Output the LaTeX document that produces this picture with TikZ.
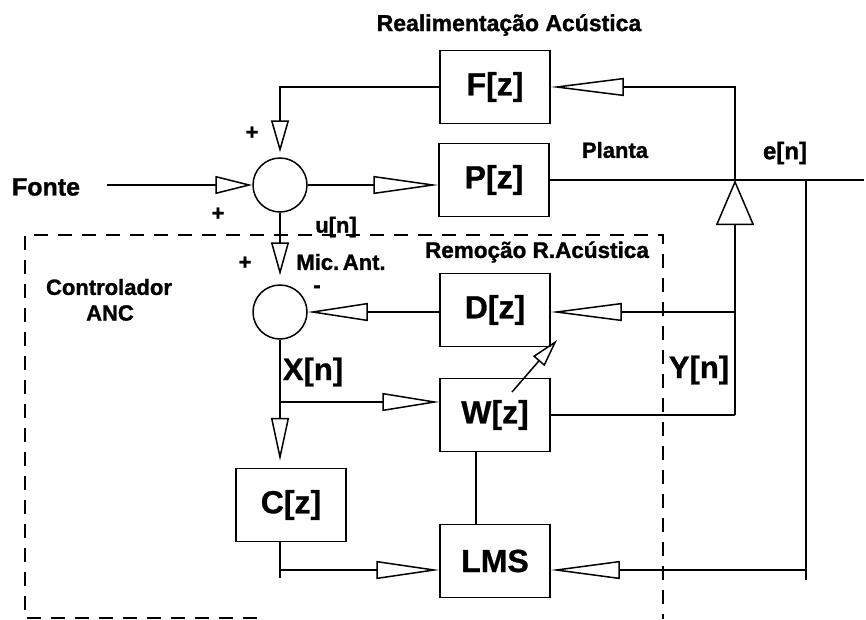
\documentclass[tikz,border=0pt]{standalone}
\usepackage{fontspec}
\setmainfont{Liberation Sans}
\newfontfamily\heavy{Liberation Sans}[FakeBold=1.3]
\newfontfamily\heavybig{Liberation Sans}[FakeBold=0.8]
\usetikzlibrary{arrows.meta,calc}
\begin{document}
\begin{tikzpicture}[x=1pt,y=-1pt,line width=1.5pt,
  blk/.style={draw, rectangle, minimum width=110pt, minimum height=73pt, inner sep=0pt, font=\fontsize{32}{32}\selectfont\heavybig\bfseries},
  sumj/.style={draw, circle, minimum size=54pt, inner sep=0pt},
  lbl/.style={font=\fontsize{22}{22}\selectfont\heavy\bfseries, inner sep=0pt},
  big/.style={font=\fontsize{31}{31}\selectfont\heavybig\bfseries, inner sep=0pt},
  ar/.style={-{Triangle[open,length=#1,width=18pt]}},
  dashbox/.style={dash pattern=on 14pt off 10pt}
]
\useasboundingbox (0,0) rectangle (866,619);

% blocks
\node[blk] (F) at (495,87) {F[z]};
\node[blk] (P) at (494,180) {P[z]\hspace{22pt}};
\node[blk] (D) at (495,310) {D[z]\hspace{28pt}};
\node[blk] (W) at (495,415) {W[z]};
\node[blk] (L) at (495,561) {LMS\hspace{28pt}};
\node[blk] (C) at (291,505) {C[z]\hspace{22pt}};
\node[sumj] (S1) at (280,185) {};
\node[sumj] (S2) at (280,312) {};

% coordinates
\coordinate (fin) at (107,185);
\coordinate (J) at (735,180);
\coordinate (E) at (806,180);
\coordinate (Rend) at (864,180);
\coordinate (Wc) at (735,415);
\coordinate (Dc) at (735,312);
\coordinate (Xb) at (280,402);
\coordinate (Cb) at (280,578);
\coordinate (Cl) at (280,570);
\coordinate (El) at (806,570);
\coordinate (Eb) at (806,580);
\coordinate (dg1) at (512,392);
\coordinate (dg2) at (557,340);

% connectors
\draw[ar=37pt] (fin) -- (S1.west);
\draw[ar=65pt] (S1.east) -- (P.west |- S1.east);
\draw (P.east) -- (Rend);
\draw[ar=73pt] (J) |- (F.east);
\draw[ar=32pt, shorten >=5pt] (F.west) -| (S1.north);
\draw[ar=33pt, shorten >=9pt] (S1.south) -- (S2.north);
\draw[-{Triangle[open,length=45pt,width=38pt]}] (Wc) -- (J);
\draw (W.east) -- (Wc);
\draw[ar=71pt] (Dc) -- (Dc -| D.east);
\draw[ar=60pt] (S2.east -| D.west) -- (S2.east);
\draw[ar=43pt, shorten >=7pt] (S2.south) -- (S2.south |- C.north);
\draw[ar=57pt] (Xb) -- (Xb -| W.west);
\draw (S2.south |- C.south) -- (Cb);
\draw[ar=63pt] (Cl) -- (Cl -| L.west);
\draw (E) -- (Eb);
\draw[ar=69pt] (El) -- (El -| L.east);
\draw ([xshift=-19pt]W.south) -- ([xshift=-19pt]L.north);
\draw[-{Triangle[open,length=28pt,width=15pt]}] (dg1) -- (dg2);

% dashed controller boundary
\draw[dashbox] (257,618) -- (25,618) -- (25,235) -- (663,235) -- (663,619);

% labels
\node[lbl, font=\fontsize{23}{23}\selectfont\heavy\bfseries] (tRA) at (509,25) {Realimentação Acústica};
\node[lbl] (tPl) at (615,150) {Planta};
\node[lbl, font=\fontsize{24}{24}\selectfont\heavy\bfseries] (ten) at (785,153) {e[n]};
\node[lbl, font=\fontsize{25}{25}\selectfont\heavy\bfseries] (tFo) at (46,187) {Fonte};
\node[lbl] (tp1) at (218,214) {+};
\node[lbl] (tp2) at (252,133) {+};
\node[lbl] (tun) at (336,227) {u[n]};
\node[lbl] (tp3) at (245,263) {+};
\node[lbl] (tMic) at (341,262) {Mic.\,Ant.};
\node[lbl] (tmin) at (317,289) {-};
\node[lbl] (tC1) at (109,287) {Controlador};
\node[lbl] (tC2) at (110,313) {ANC};
\node[lbl, font=\fontsize{22.5}{22.5}\selectfont\heavy\bfseries] (tRem) at (537,252) {Remoção R.Acústica};
\node[big] (tX) at (313,372) {X[n]};
\node[big] (tY) at (699,370) {Y[n]};
\end{tikzpicture}
\end{document}
